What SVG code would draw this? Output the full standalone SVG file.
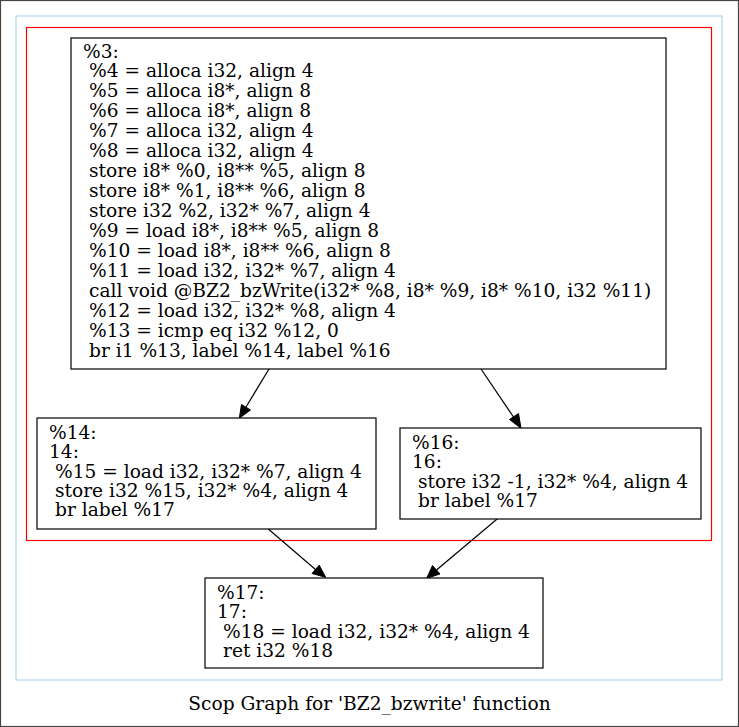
<svg xmlns="http://www.w3.org/2000/svg" width="739" height="727" viewBox="0 0 739 727">
  <style>
    .node rect { fill: #ffffff; stroke: #000000; stroke-width: 1.2; }
    .node text, .caption { font-family: "DejaVu Serif", "Liberation Serif", serif; font-size: 18.6px; fill: #000000; }
    .edge { stroke: #000000; stroke-width: 1.2; fill: none; }
    .head { fill: #000000; stroke: #000000; stroke-width: 1; }
  </style>
  <rect x="0.5" y="0.5" width="738" height="726" fill="#ffffff" stroke="#444444" stroke-width="1.2"/>
  <!-- scop cluster boxes -->
  <rect x="16" y="16" width="706" height="664" fill="none" stroke="#add8e6" stroke-width="1.2"/>
  <rect x="26.5" y="27.5" width="685" height="513" fill="none" stroke="#ff0000" stroke-width="1.2"/>

  <g id="connectors">
    <line class="edge" x1="269.3" y1="368.5" x2="246" y2="407"/>
    <polygon class="head" points="239.3,418.3 241.5,404.5 250.5,410"/>
    <line class="edge" x1="480.7" y1="368.5" x2="513.5" y2="417"/>
    <polygon class="head" points="521,428.3 509.5,419.5 518.5,413.5"/>
    <line class="edge" x1="268.3" y1="529" x2="315.5" y2="569.5"/>
    <polygon class="head" points="325.7,577.3 312,573.5 319.2,565.2"/>
    <line class="edge" x1="497.7" y1="518.5" x2="436.5" y2="570"/>
    <polygon class="head" points="426.7,578.3 432.5,565.5 440,574"/>
  </g>

  <g id="node3" class="node">
    <rect x="71" y="38" width="595" height="331"/>
    <text x="83" y="58">%3:</text>
    <text x="89" y="77">%4 = alloca i32, align 4</text>
    <text x="89" y="97">%5 = alloca i8*, align 8</text>
    <text x="89" y="117">%6 = alloca i8*, align 8</text>
    <text x="89" y="137">%7 = alloca i32, align 4</text>
    <text x="89" y="157">%8 = alloca i32, align 4</text>
    <text x="89" y="177">store i8* %0, i8** %5, align 8</text>
    <text x="89" y="197">store i8* %1, i8** %6, align 8</text>
    <text x="89" y="217">store i32 %2, i32* %7, align 4</text>
    <text x="89" y="237">%9 = load i8*, i8** %5, align 8</text>
    <text x="89" y="257">%10 = load i8*, i8** %6, align 8</text>
    <text x="89" y="277">%11 = load i32, i32* %7, align 4</text>
    <text x="89" y="297">call void @BZ2_bzWrite(i32* %8, i8* %9, i8* %10, i32 %11)</text>
    <text x="89" y="317">%12 = load i32, i32* %8, align 4</text>
    <text x="89" y="337">%13 = icmp eq i32 %12, 0</text>
    <text x="89" y="357">br i1 %13, label %14, label %16</text>
  </g>

  <g id="node14" class="node">
    <rect x="37" y="418" width="339" height="111"/>
    <text x="49" y="439">%14:</text>
    <text x="49" y="458.3">14:</text>
    <text x="55" y="477.6">%15 = load i32, i32* %7, align 4</text>
    <text x="55" y="496.9">store i32 %15, i32* %4, align 4</text>
    <text x="55" y="516.2">br label %17</text>
  </g>

  <g id="node16" class="node">
    <rect x="400" y="428" width="301" height="91"/>
    <text x="412" y="449">%16:</text>
    <text x="412" y="468.3">16:</text>
    <text x="418" y="487.6">store i32 -1, i32* %4, align 4</text>
    <text x="418" y="506.9">br label %17</text>
  </g>

  <g id="node17" class="node">
    <rect x="205" y="578" width="338" height="90"/>
    <text x="217" y="599">%17:</text>
    <text x="217" y="618.3">17:</text>
    <text x="223" y="637.6">%18 = load i32, i32* %4, align 4</text>
    <text x="223" y="656.9">ret i32 %18</text>
  </g>

  <text class="caption" x="369.5" y="710" text-anchor="middle">Scop Graph for 'BZ2_bzwrite' function</text>
</svg>
